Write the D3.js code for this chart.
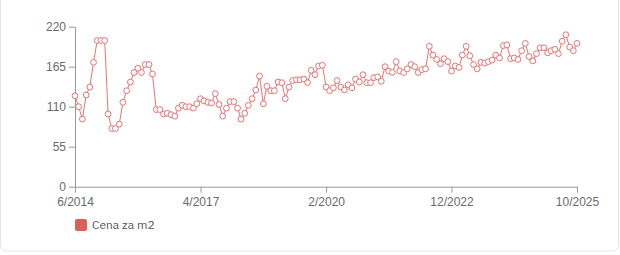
<!DOCTYPE html>
<html>
<head>
<meta charset="utf-8">
<script src="https://cdn.jsdelivr.net/npm/d3@7"></script>
<style>
  body { margin: 0; background: #fff; }
  svg { display: block; font-family: "IBM Plex Sans", Roboto, "Noto Sans", sans-serif; }
  .axis path, .axis line { stroke: #999; }
  .axis text { fill: #6b6b6b; font-size: 12px; }
</style>
</head>
<body>
<svg class="chart" width="620" height="255"></svg>
<script>
// monthly price per m2, starting 6/2014
const startMonth = new Date(2014, 5, 1)
const prices = [
  125, 110, 93, 126, 137, 171, 201, 201, 201, 100,
  80, 80, 86, 116, 132, 144, 157, 163, 157, 168,
  168, 155, 106, 106, 100, 101, 99, 97, 108, 112,
  110, 110, 108, 114, 121, 118, 116, 115, 128, 113,
  97, 108, 117, 117, 108, 93, 101, 112, 121, 133,
  152, 114, 138, 132, 132, 144, 143, 121, 137, 146,
  147, 147, 148, 143, 160, 154, 166, 167, 137, 132,
  136, 146, 137, 133, 140, 136, 148, 144, 154, 143,
  143, 150, 151, 145, 165, 159, 157, 172, 159, 157,
  162, 168, 165, 157, 161, 162, 193, 181, 175, 169,
  176, 172, 159, 166, 164, 181, 193, 180, 168, 162,
  171, 170, 172, 174, 181, 177, 194, 195, 176, 177,
  175, 187, 197, 179, 173, 183, 191, 191, 184, 187,
  189, 183, 200, 209, 192, 187, 197
]
const xTicks = [new Date(2014, 5, 1), new Date(2017, 3, 1), new Date(2020, 1, 1), new Date(2022, 11, 1), new Date(2025, 9, 1)]
const yTicks = [0, 55, 110, 165, 220]
const seriesName = 'Cena za m2'

const data = prices.map((v, i) => ({date: d3.timeMonth.offset(startMonth, i), value: v}))

const lineColor = '#e57373'
const svg = d3.select('.chart')

// card border
svg.append('rect')
    .attr('x', 0.5).attr('y', -20)
    .attr('width', 618).attr('height', 271)
    .attr('rx', 6)
    .attr('fill', 'none')
    .attr('stroke', '#e6e6e6')

const xScale = d3.scaleTime([xTicks[0], xTicks[xTicks.length - 1]], [75, 577])
const yScale = d3.scaleLinear([0, 220], [186.7, 26.7])

svg.append('g')
    .attr('class', 'axis')
    .attr('transform', 'translate(0, 186.7)')
    .call(d3.axisBottom(xScale).tickValues(xTicks).tickSize(6).tickSizeOuter(0)
        .tickFormat(d => (d.getMonth() + 1) + '/' + d.getFullYear()))
    .call(g => g.selectAll('text').attr('dy', '0.9em'))

svg.append('g')
    .attr('class', 'axis')
    .attr('transform', 'translate(75, 0)')
    .call(d3.axisLeft(yScale).tickValues(yTicks).tickSize(6).tickSizeOuter(0))

const line = d3.line()
    .x(d => xScale(d.date))
    .y(d => yScale(d.value))

svg.append('path')
    .datum(data)
    .attr('d', line)
    .attr('fill', 'none')
    .attr('stroke', lineColor)
    .attr('stroke-width', 1)

svg.append('g')
    .selectAll('circle')
    .data(data)
    .join('circle')
        .attr('cx', d => xScale(d.date))
        .attr('cy', d => yScale(d.value))
        .attr('r', 2.9)
        .attr('fill', '#fff')
        .attr('stroke', lineColor)
        .attr('stroke-width', 1)

// legend
const legend = svg.append('g').attr('transform', 'translate(75, 219)')
legend.append('rect')
    .attr('width', 12).attr('height', 12).attr('rx', 2)
    .attr('fill', '#dc5f5a')
legend.append('text')
    .text(seriesName)
    .attr('x', 17).attr('y', 6)
    .attr('dy', '0.35em')
    .attr('font-size', '12px')
    .attr('fill', '#555')
</script>
</body>
</html>
